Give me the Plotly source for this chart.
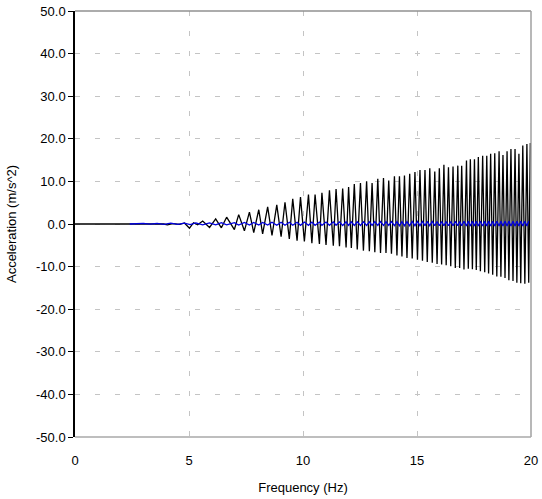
import plotly.graph_objects as go

# Black trace: extrema (frequency Hz, acceleration m/s^2)
black_f = [0.0, 3.9, 4.05, 4.3, 4.6, 4.8, 5.02, 5.2, 5.38, 5.6, 5.9, 6.17, 6.42, 6.65,
           6.99, 7.18, 7.43, 7.65, 7.84, 8.06, 8.23, 8.45, 8.64, 8.85, 9.04, 9.21, 9.40,
           9.55, 9.74, 9.89, 10.06, 10.24, 10.39, 10.53, 10.72, 10.83, 11.01, 11.16, 11.33,
           11.45, 11.60, 11.74, 11.89, 12.00, 12.12, 12.25, 12.38, 12.52, 12.65, 12.79,
           12.91, 13.03, 13.15, 13.28, 13.40, 13.53, 13.64, 13.76, 13.88, 14.01, 14.12,
           14.23, 14.34, 14.45, 14.56, 14.68, 14.79, 14.91, 15.02, 15.13, 15.24, 15.35,
           15.45, 15.56, 15.67, 15.78, 15.88, 15.98, 16.08, 16.18, 16.28, 16.38, 16.48,
           16.58, 16.68, 16.79, 16.87, 16.96, 17.06, 17.17, 17.25, 17.34, 17.43, 17.52,
           17.60, 17.69, 17.78, 17.88, 17.97, 18.06, 18.14, 18.23, 18.32, 18.41, 18.50,
           18.60, 18.68, 18.77, 18.86, 18.95, 19.03, 19.12, 19.21, 19.30, 19.38, 19.47,
           19.55, 19.64, 19.73, 19.82, 19.90, 19.97]
black_v = [0.0, 0.0, -0.2, 0.1, -0.1, 0.25, -1.0, 0.3, -0.2, 0.7, -0.8, 1.2, -0.9, 1.6,
           -1.3, 2.2, -1.6, 2.8, -2.0, 3.35, -2.3, 4.0, -2.7, 4.5, -3.0, 5.1, -3.5,
           5.9, -3.9, 6.3, -4.1, 6.9, -4.5, 6.9, -4.7, 7.3, -4.9, 7.9, -5.1,
           8.2, -5.2, 8.35, -5.5, 8.7, -5.6, 9.4, -6.0, 9.6, -6.25, 10.0,
           -6.4, 9.6, -6.6, 10.6, -6.8, 10.8, -6.8, 10.2, -7.0, 11.2, -7.4,
           11.2, -7.6, 11.4, -8.0, 11.8, -8.1, 12.2, -8.4, 12.7, -8.6, 12.7,
           -8.9, 13.1, -9.1, 12.3, -9.4, 13.1, -9.5, 13.9, -9.7, 13.3, -9.9,
           13.5, -10.3, 13.7, -10.3, 13.7, -10.7, 14.9, -10.5, 15.2, -10.6, 15.2,
           -10.8, 15.7, -11.1, 16.0, -11.3, 16.0, -11.6, 16.5, -11.9, 16.6, -12.3,
           17.1, -12.4, 16.2, -12.7, 17.1, -13.2, 17.6, -13.4, 17.6, -13.8, 16.5,
           -13.9, 18.4, -14.0, 18.8, -13.8, 19.0]

# Blue trace: small oscillation around zero
blue_f = [2.4, 3.0, 3.3, 3.6, 3.9, 4.2, 4.5, 4.8, 5.05, 5.3, 5.6, 5.9, 6.17, 6.42, 6.65,
          6.99, 7.18, 7.43, 7.65, 7.84, 8.06, 8.23, 8.45, 8.64, 8.85, 9.04, 9.21, 9.40,
          9.55, 9.74, 9.89, 10.06, 10.24, 10.39, 10.53, 10.72, 10.83, 11.01, 11.16, 11.33,
          11.45, 11.60, 11.74, 11.89, 12.00, 12.12, 12.25, 12.38, 12.52, 12.65, 12.79,
          12.91, 13.03, 13.15, 13.28, 13.40, 13.53, 13.64, 13.76, 13.88, 14.01, 14.12,
          14.23, 14.34, 14.45, 14.56, 14.68, 14.79, 14.91, 15.02, 15.13, 15.24, 15.35,
          15.45, 15.56, 15.67, 15.78, 15.88, 15.98, 16.08, 16.18, 16.28, 16.38, 16.48,
          16.58, 16.68, 16.79, 16.87, 16.96, 17.06, 17.17, 17.25, 17.34, 17.43, 17.52,
          17.60, 17.69, 17.78, 17.88, 17.97, 18.06, 18.14, 18.23, 18.32, 18.41, 18.50,
          18.60, 18.68, 18.77, 18.86, 18.95, 19.03, 19.12, 19.21, 19.30, 19.38, 19.47,
          19.55, 19.64, 19.73, 19.82, 19.90, 19.97]
blue_v = [0.0, 0.15, -0.05, 0.15, -0.1, 0.2, -0.1, 0.2, -0.15, 0.25, -0.2, 0.25, -0.2, 0.3, -0.2,
          0.3, -0.25, 0.35, -0.25, 0.35, -0.25, 0.35, -0.25, 0.4, -0.3, 0.4, -0.3,
          0.4, -0.3, 0.4, -0.3, 0.45, -0.3, 0.45, -0.3, 0.45, -0.3, 0.45, -0.3,
          0.5, -0.3, 0.5, -0.35, 0.5, -0.35, 0.5, -0.35, 0.5, -0.35, 0.5,
          -0.35, 0.5, -0.35, 0.55, -0.35, 0.55, -0.35, 0.55, -0.35, 0.55, -0.4,
          0.55, -0.4, 0.55, -0.4, 0.55, -0.4, 0.6, -0.4, 0.6, -0.4, 0.6,
          -0.4, 0.6, -0.4, 0.6, -0.4, 0.6, -0.4, 0.6, -0.4, 0.6, -0.4,
          0.6, -0.4, 0.6, -0.4, 0.6, -0.4, 0.65, -0.45, 0.65, -0.45, 0.65,
          -0.45, 0.65, -0.45, 0.65, -0.45, 0.65, -0.45, 0.65, -0.45, 0.65, -0.45,
          0.65, -0.45, 0.65, -0.45, 0.65, -0.45, 0.65, -0.45, 0.65, -0.45, 0.65,
          -0.45, 0.65, -0.45, 0.65, -0.45, 0.65]

x_ticks = [0, 5, 10, 15, 20]
y_ticks = [-50, -40, -30, -20, -10, 0, 10, 20, 30, 40, 50]

FONT = "Liberation Sans, Arial, sans-serif"

fig = go.Figure()
fig.add_trace(go.Scatter(x=black_f, y=black_v, mode="lines",
                         line=dict(color="black", width=1.3), showlegend=False))
fig.add_trace(go.Scatter(x=blue_f, y=blue_v, mode="lines",
                         line=dict(color="#0000dd", width=1.3), showlegend=False))

grid = dict(showgrid=True, gridcolor="#c4c4c4", gridwidth=1, griddash="5px,15px")

fig.update_layout(
    width=542, height=499,
    margin=dict(l=75, r=11, t=11, b=62),
    paper_bgcolor="white", plot_bgcolor="white",
    font=dict(family=FONT, size=13, color="black"),
    xaxis=dict(range=[0, 20], tickvals=x_ticks, ticktext=[str(v) for v in x_ticks],
               ticks="", ticklabelstandoff=14, showline=False, zeroline=False,
               automargin=False,
               title=dict(text="Frequency (Hz)", standoff=15, font=dict(size=13)),
               **grid),
    yaxis=dict(range=[-50, 50], tickvals=y_ticks, ticktext=[f"{v:.1f}" for v in y_ticks],
               ticks="outside", ticklen=5, tickcolor="black", tickwidth=1,
               showline=True, linecolor="black", linewidth=1.5, zeroline=False,
               automargin=False,
               title=dict(text="Acceleration (m/s^2)", standoff=16, font=dict(size=13)),
               **grid),
)
# gray frame on top, right, bottom
for x0, y0, x1, y1, c in [(0, 1, 1, 1, "#909090"), (1, 0, 1, 1, "#a0a0a0"), (0, 0, 1, 0, "#a8a8a8")]:
    fig.add_shape(type="line", xref="paper", yref="paper", x0=x0, y0=y0, x1=x1, y1=y1,
                  line=dict(color=c, width=1.5), layer="above")

fig.write_html("out.html", config={"displayModeBar": False},
               post_script="document.body.style.margin='0px';")
